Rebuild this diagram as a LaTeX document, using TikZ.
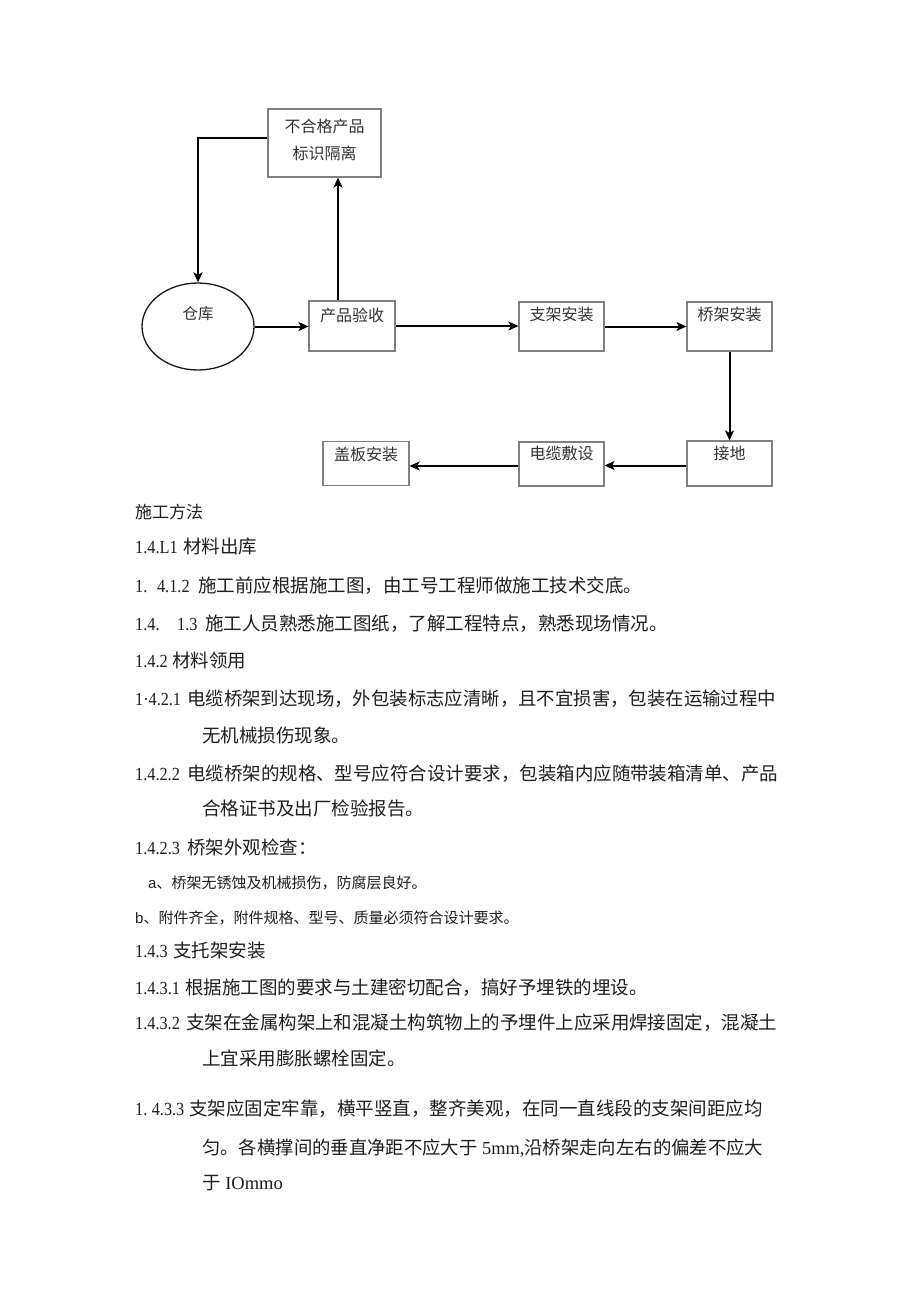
\documentclass[tikz,border=0pt]{standalone}
\usepackage{fontspec}
\usepackage{graphicx}
\setmainfont{Liberation Serif}
\newfontfamily\cjk{Noto Sans CJK SC}
\newfontfamily\lsans{Liberation Sans}
\usetikzlibrary{shapes.geometric,arrows.meta}
\newcommand\pre[2]{\makebox[#1][l]{\rmfamily\scalebox{0.88}[1]{#2}}}
\begin{document}
\begin{tikzpicture}[x=1pt,y=-1pt,
  box/.style={draw=black!50, line width=1.1pt, rectangle, inner sep=0pt, text=black!80,
    font=\cjk\fontsize{16pt}{20pt}\selectfont},
  arr/.style={line width=2pt, -{Stealth[length=10pt,width=9pt,inset=2.5pt]}},
  body/.style={anchor=base west, inner sep=0pt, text=black!88, font=\fontsize{18.5pt}{22pt}\selectfont},
  small/.style={anchor=base west, inner sep=0pt, text=black!88, font=\fontsize{15pt}{18pt}\selectfont}]
\useasboundingbox (0,0) rectangle (920,1301);
\fill[white] (0,0) rectangle (920,1301);

% flow chart
\node[box, minimum width=113pt, text height=23.8pt, text depth=44.2pt] (nb) at (324.5,143)
  {\fontsize{16pt}{26.3pt}\selectfont\begin{tabular}[t]{@{}c@{}}不合格产品\\标识隔离\end{tabular}};
\node[draw=black!90, line width=1.3pt, ellipse, minimum width=112pt, minimum height=87pt, inner sep=0pt,
  text height=5pt, text depth=20pt, text=black!80, font=\cjk\fontsize{15.5pt}{18pt}\selectfont] (ck) at (198,326.5) {仓库};
\node[box, minimum width=86pt, text height=20pt, text depth=30pt] (cp) at (352,326) {产品验收};
\node[box, minimum width=85pt, text height=18pt, text depth=31pt] (zj) at (561.5,326.5) {支架安装};
\node[box, minimum width=85pt, text height=18pt, text depth=31pt] (qj) at (729.5,326.5) {桥架安装};
\node[box, minimum width=85pt, text height=18pt, text depth=27pt] (jd) at (729.5,463.5) {接地};
\node[box, minimum width=85pt, text height=17pt, text depth=27pt] (dl) at (561.5,464) {电缆敷设};
\node[box, minimum width=86pt, text height=18.7pt, text depth=25.3pt] (gb) at (366,463.7) {盖板安装};

\draw[arr] ([yshift=5pt]nb.west) -| (ck.north);
\draw[arr] (ck.east) -- (ck.east -| cp.west);
\draw[arr] ([xshift=-14pt]cp.north) -- ([xshift=-14pt]cp.north |- nb.south);
\draw[arr] (cp.east) -- (cp.east -| zj.west);
\draw[arr] (zj.east) -- (zj.east -| qj.west);
\draw[arr] (qj.south) -- (jd.north);
\draw[arr] ([yshift=-2pt]jd.west) -- ([yshift=-2pt]jd.west -| dl.east);
\draw[arr] ([yshift=-2pt]dl.west) -- ([yshift=-2pt]dl.west -| gb.east);

% text
\node[body, font=\fontsize{17pt}{20pt}\selectfont] (t1) at (135,518) {\cjk 施工方法};
\node[body] (t2) at (135,553.7) {\pre{48pt}{1.4.L1}\cjk 材料出库};
\node[body] (t3) at (135,592) {\pre{63pt}{1.\hspace{11pt}4.1.2}\cjk 施工前应根据施工图，由工号工程师做施工技术交底。};
\node[body] (t4) at (135,630) {\pre{70pt}{1.4.\hspace{20pt}1.3}\cjk 施工人员熟悉施工图纸，了解工程特点，熟悉现场情况。};
\node[body] (t5) at (135,667) {\pre{37pt}{1.4.2}\cjk 材料领用};
\node[body, font=\fontsize{18.4pt}{22pt}\selectfont] (t6) at (135,705) {\pre{52pt}{1·4.2.1}\cjk 电缆桥架到达现场，外包装标志应清晰，且不宜损害，包装在运输过程中};
\node[body] (t7) at (202,742) {\cjk 无机械损伤现象。};
\node[body, font=\fontsize{18.47pt}{22pt}\selectfont] (t8) at (135,780) {\pre{52pt}{1.4.2.2}\cjk 电缆桥架的规格、型号应符合设计要求，包装箱内应随带装箱清单、产品};
\node[body] (t9) at (202,815) {\cjk 合格证书及出厂检验报告。};
\node[body] (t10) at (135,854) {\pre{52pt}{1.4.2.3}\cjk 桥架外观检查：};
\node[small] (t11) at (148,888.7) {{\lsans a}\cjk 、桥架无锈蚀及机械损伤，防腐层良好。};
\node[small] (t12) at (135,923.7) {{\lsans b}\cjk 、附件齐全，附件规格、型号、质量必须符合设计要求。};
\node[body] (t13) at (135,957) {\pre{38pt}{1.4.3}\cjk 支托架安装};
\node[body] (t14) at (135,994) {\pre{50pt}{1.4.3.1}\cjk 根据施工图的要求与土建密切配合，搞好予埋铁的埋设。};
\node[body, font=\fontsize{18.47pt}{22pt}\selectfont] (t15) at (135,1029) {\pre{51pt}{1.4.3.2}\cjk 支架在金属构架上和混凝土构筑物上的予埋件上应采用焊接固定，混凝土};
\node[body] (t16) at (202,1065) {\cjk 上宜采用膨胀螺栓固定。};
\node[body, font=\fontsize{18.5pt}{22pt}\selectfont] (t17) at (135,1115) {\pre{54pt}{1.\hspace{5pt}4.3.3}\cjk 支架应固定牢靠，横平竖直，整齐美观，在同一直线段的支架间距应均};
\node[body, font=\fontsize{18.36pt}{22pt}\selectfont] (t18) at (202,1154) {\cjk 匀。各横撑间的垂直净距不应大于{\rmfamily\ 5mm,}沿桥架走向左右的偏差不应大};
\node[body] (t19) at (202,1189) {\cjk 于{\rmfamily\ IOmmo}};
\end{tikzpicture}
\end{document}
